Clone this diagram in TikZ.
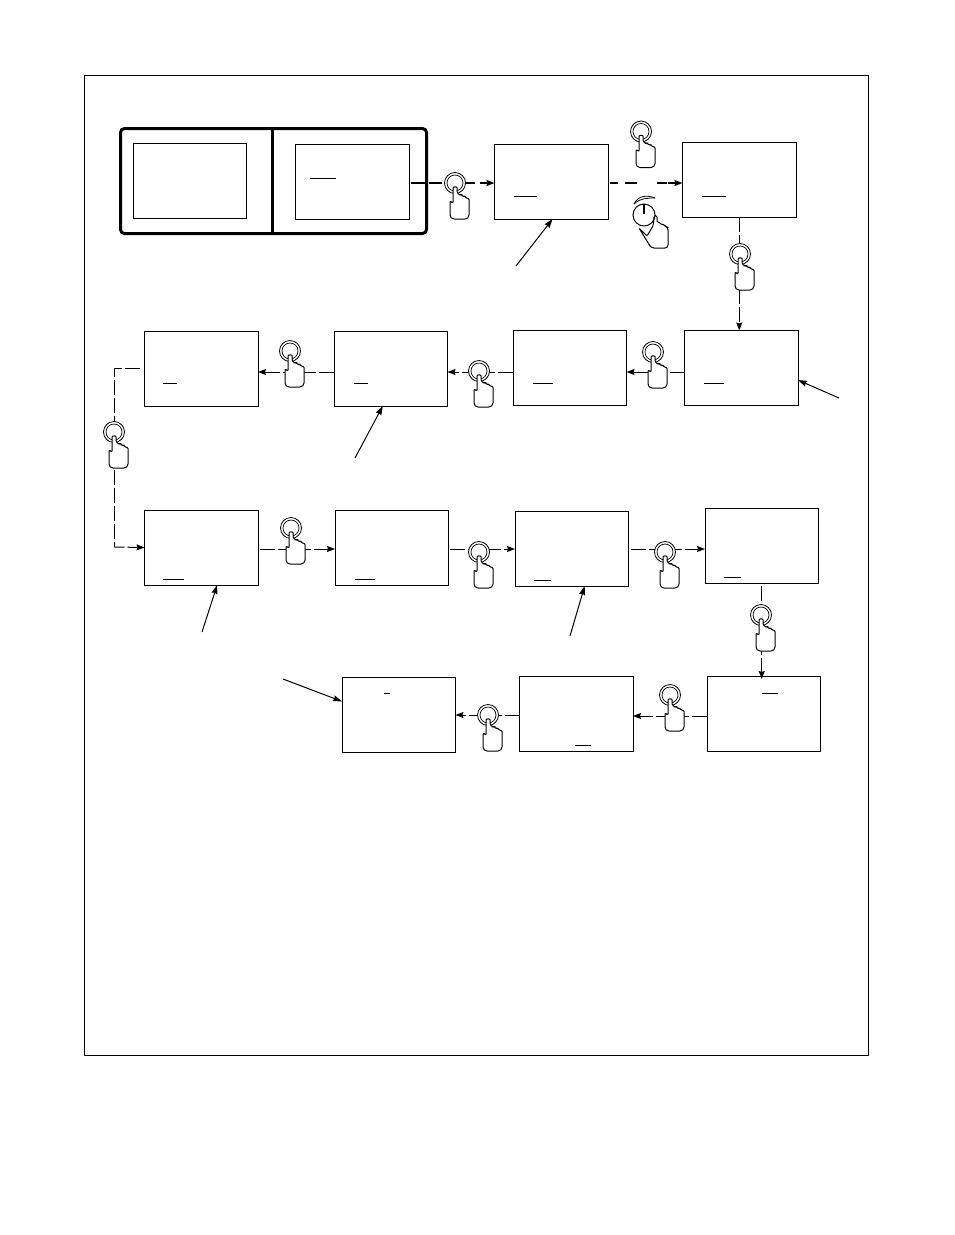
\documentclass[tikz,border=0pt]{standalone}
\usetikzlibrary{arrows.meta, calc}
\tikzset{
  dispbox/.style={rectangle, draw=black, line width=1pt, fill=white, minimum width=113.5pt, minimum height=75pt,
                  inner sep=0pt, outer sep=0pt, anchor=north west},
  cursorline/.style={line width=0.9pt},
  darr/.style={-{Stealth[length=8pt, width=6pt, inset=1pt]}, line width=1pt, dash pattern=on 15pt off 3pt},
  darrb/.style={-{Stealth[length=8pt, width=6pt, inset=1pt]}, line width=1.7pt},
  dline/.style={line width=1pt, dash pattern=on 15pt off 3pt},
  leader/.style={-{Stealth[length=9pt, width=6pt, inset=1pt]}, line width=1pt},
  pushbtn/.pic={
    \draw[line width=0.8pt, fill=white] (0,0) circle (10.5);
    \draw[line width=0.7pt] (0,0) circle (8);
    \draw[line width=1pt, fill=white, rounded corners=1pt]
      (-2,20) -- (-2,6) .. controls (-2,3.5) and (2.2,3.5) .. (2.2,6) -- (2.2,10) -- (5,12) -- (6,11.5) -- (8,13.5) -- (9.5,13) -- (11,15) -- (14,15.5)
      -- (14,30) [rounded corners=4pt] -- (14,36) -- (-5,36) [rounded corners=1pt] -- (-5,18) -- cycle;
  },
}
\begin{document}
\begin{tikzpicture}[x=1pt, y=-1pt]
  \useasboundingbox (0,0) rectangle (954,1235);
  \node[draw, line width=1pt, minimum width=784pt, minimum height=980pt, inner sep=0pt, outer sep=0pt, anchor=north west] (frame) at (84,75) {};
  \node[draw, line width=3pt, rounded corners=4pt, minimum width=306pt, minimum height=105pt, inner sep=0pt, outer sep=0pt, anchor=north west] (panel) at (120.5,128.5) {};
  \draw[line width=3pt] (panel.north west -| 272,0) -- (panel.south west -| 272,0);

  \node[dispbox] (dsa) at (133,143) {};
  \node[dispbox] (dsb) at (295.5,144) {};
  \node[dispbox] (dsc) at (494.5,144) {};
  \node[dispbox] (dsd) at (682.5,142) {};
  \node[dispbox] (dse) at (684.5,330.5) {};
  \node[dispbox] (dsf) at (513,330) {};
  \node[dispbox] (dsg) at (334,331) {};
  \node[dispbox] (dsh) at (144.5,331) {};
  \node[dispbox] (dsi) at (144.5,510) {};
  \node[dispbox] (dsj) at (335,510) {};
  \node[dispbox] (dsk) at (515,511) {};
  \node[dispbox] (dsl) at (705,508) {};
  \node[dispbox] (dsm) at (707,676) {};
  \node[dispbox] (dsn) at (519.5,676) {};
  \node[dispbox] (dso) at (342,677) {};

  \draw[cursorline] (310,178) -- (336,178);
  \draw[cursorline] (514,196) -- (537,196);
  \draw[cursorline] (702,196) -- (726,196);
  \draw[cursorline] (704,383) -- (724,383);
  \draw[cursorline] (533,383) -- (553,383);
  \draw[cursorline] (354,383) -- (368,383);
  \draw[cursorline] (163,383) -- (177,383);
  \draw[cursorline] (163,579) -- (184,579);
  \draw[cursorline] (355,579) -- (375,579);
  \draw[cursorline] (534,580) -- (551,580);
  \draw[cursorline] (724,577) -- (741,577);
  \draw[cursorline] (762,693) -- (778,693);
  \draw[cursorline] (575,745) -- (591,745);
  \draw[cursorline] (384,693) -- (390,693);

  \draw[darrb, dash pattern=on 16pt off 2pt on 13pt off 24pt on 9pt off 5pt on 14pt] ([xshift=1.5pt, yshift=-1.5pt]dsb.east) -- ([yshift=-1.5pt]dsc.west);
  \draw[darrb, dash pattern=on 8pt off 7pt on 12pt off 20pt on 10pt off 1pt on 14pt] ([xshift=1.5pt, yshift=-1.5pt]dsc.east) -- ([yshift=-1.5pt]dsc.east -| dsd.west);
  \draw[darr] (dsd.south) -- (dsd.south |- dse.north);
  \draw[darr] ([yshift=-4pt]dse.west) -- ([yshift=-4pt]dse.west -| dsf.east);
  \draw[darr] ([yshift=-4.5pt]dsf.west) -- ([yshift=-4.5pt]dsf.west -| dsg.east);
  \draw[darr] ([yshift=-3.5pt]dsg.west) -- ([yshift=-3.5pt]dsg.west -| dsh.east);
  \coordinate (turntop) at (114.5,368.5);
  \coordinate (turnbot) at (114.5,547);
  \draw[dline] ([xshift=-5pt]dsh.west) -- (turntop) -- (turnbot);
  \draw[darr, dash pattern=on 10pt off 3pt on 10pt off 3pt] (turnbot) -- (dsi.west);
  \draw[darr] ([xshift=1.5pt, yshift=-1.5pt]dsi.east) -- ([yshift=-1.5pt]dsi.east -| dsj.west);
  \draw[darr] ([xshift=1.5pt, yshift=-1.5pt]dsj.east) -- ([yshift=-1.5pt]dsj.east -| dsk.west);
  \draw[darr] ([xshift=2.5pt, yshift=-0.5pt]dsk.east) -- ([yshift=-0.5pt]dsk.east -| dsl.west);
  \draw[darr] ([yshift=-3pt]dsl.south) -- ([yshift=-3pt]dsl.south |- dsm.north);
  \draw[darr] ([yshift=-2.5pt]dsm.west) -- ([yshift=-2.5pt]dsm.west -| dsn.east);
  \draw[darr] ([yshift=-1.5pt]dsn.west) -- ([yshift=-1.5pt]dsn.west -| dso.east);

  \pic (btna) at (455,183) {pushbtn};
  \pic (btnb) at (641,131.5) {pushbtn};
  \pic (btnc) at (740,254) {pushbtn};
  \pic (btnd) at (653,352) {pushbtn};
  \pic (btne) at (479,371) {pushbtn};
  \pic (btnf) at (290,351) {pushbtn};
  \pic (btng) at (114,432) {pushbtn};
  \pic (btnh) at (291,528) {pushbtn};
  \pic (btni) at (479,552) {pushbtn};
  \pic (btnj) at (665,552) {pushbtn};
  \pic (btnk) at (761,615) {pushbtn};
  \pic (btnl) at (670,695) {pushbtn};
  \pic (btnm) at (488,715) {pushbtn};

  % knob with hand
  \draw[line width=0.8pt] (634,204) .. controls (640,198) and (648,198) .. (655,198);
  \draw[line width=0.8pt] (634,204) .. controls (638,195) and (648,195) .. (655,198);
  \draw[line width=1pt] (644,215) circle (11);
  \draw[line width=2pt] (644,204) -- (644,214);
  \draw[line width=1pt, rounded corners=1pt]
    (639,228) -- (650,246) [rounded corners=3pt] -- (651,248) -- (668,248) -- (668,227) [rounded corners=1pt] -- (665,226) -- (663,224) -- (661,224.5) -- (659,222) -- (657,222)
    -- (657,218) .. controls (657,215) and (654,215) .. (654,218) -- (653,226) -- (647,236) -- cycle;

  \coordinate (notec) at (516,266);
  \coordinate (notee) at (839,398);
  \coordinate (noteg) at (355,458);
  \coordinate (notei) at (202,632);
  \coordinate (notek) at (570,636);
  \coordinate (noteo) at (283,679);
  \draw[leader] (notec) -- (dsc.-88);
  \draw[leader] (notee) -- (dse.-12);
  \draw[leader] (noteg) -- (dsg.258);
  \draw[leader] (notei) -- (dsi.293);
  \draw[leader] (notek) -- (dsk.289);
  \draw[leader] (noteo) -- (dso.167);
\end{tikzpicture}
\end{document}
